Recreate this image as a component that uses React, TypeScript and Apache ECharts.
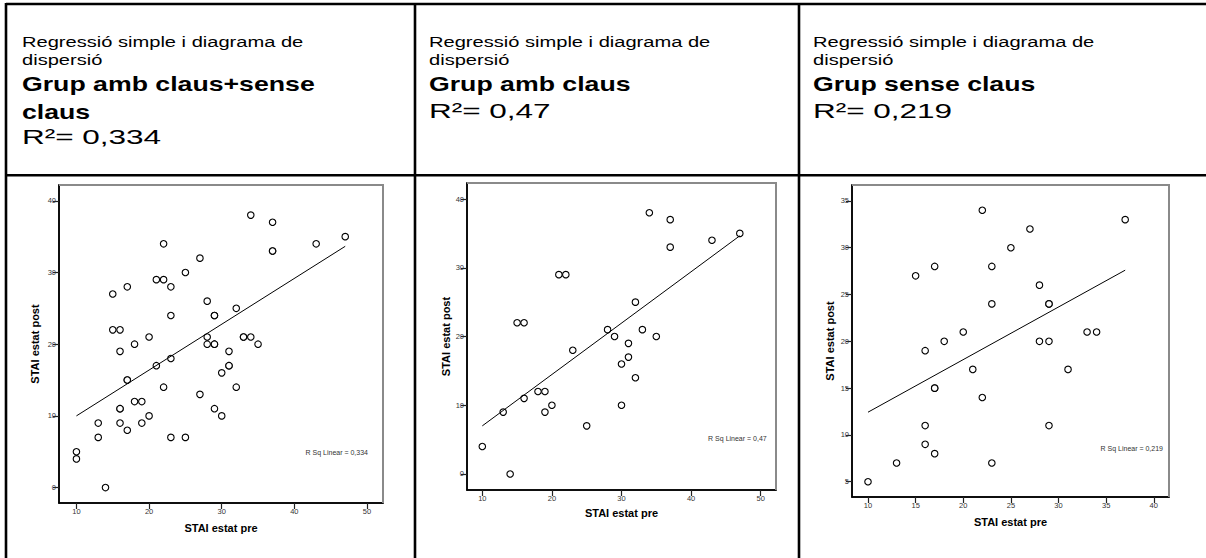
import React, { useEffect, useRef } from "react";
import * as echarts from "echarts";

// ---------- data ----------
const allPre = [34, 37, 47, 43, 22, 37, 37, 27, 25, 21, 22, 17, 23, 15, 28, 32, 23, 29, 29, 15, 16, 20, 28, 33, 33, 34, 18, 28, 29, 29, 35, 16, 31, 23, 21, 31, 31, 30, 17, 17, 22, 32, 27, 18, 19, 16, 16, 29, 20, 30, 13, 16, 19, 17, 13, 23, 25, 10, 10, 14];
const allPost = [38, 37, 35, 34, 34, 33, 33, 32, 30, 29, 29, 28, 28, 27, 26, 25, 24, 24, 24, 22, 22, 21, 21, 21, 21, 21, 20, 20, 20, 20, 20, 19, 19, 18, 17, 17, 17, 16, 15, 15, 14, 14, 13, 12, 12, 11, 11, 11, 10, 10, 9, 9, 9, 8, 7, 7, 7, 5, 4, 0];

const ambPre = [34, 37, 47, 43, 37, 21, 22, 32, 15, 16, 28, 33, 29, 35, 31, 23, 31, 30, 32, 18, 19, 16, 13, 19, 20, 30, 25, 10, 14];
const ambPost = [38, 37, 35, 34, 33, 29, 29, 25, 22, 22, 21, 21, 20, 20, 19, 18, 17, 16, 14, 12, 12, 11, 9, 9, 10, 10, 7, 4, 0];

const sensePre = [22, 37, 27, 25, 17, 23, 15, 28, 23, 29, 29, 20, 33, 34, 18, 28, 29, 16, 21, 31, 17, 17, 22, 16, 29, 16, 17, 13, 23, 10];
const sensePost = [34, 33, 32, 30, 28, 28, 27, 26, 24, 24, 24, 21, 21, 21, 20, 20, 20, 19, 17, 17, 15, 15, 14, 11, 11, 9, 8, 7, 7, 5];

// fitted regression lines (endpoints)
const fitAll = [[10, 10.0], [47, 33.65]];
const fitAmb = [[10, 7.0], [47, 34.65]];
const fitSense = [[10, 12.43], [37, 27.6]];

const xTicksA = [10, 20, 30, 40, 50];
const yTicksA = [0, 10, 20, 30, 40];
const xTicksS = [10, 15, 20, 25, 30, 35, 40];
const yTicksS = [5, 10, 15, 20, 25, 30, 35];

const subTitle = ["Regressió simple i diagrama de", "dispersió"];
const groupTitles = [["Grup amb claus+sense", "claus"], ["Grup amb claus"], ["Grup sense claus"]];
const r2Header = ["R²= 0,334", "R²= 0,47", "R²= 0,219"];
const r2Labels = ["R Sq Linear = 0,334", "R Sq Linear = 0,47", "R Sq Linear = 0,219"];
const xName = "STAI estat pre";
const yName = "STAI estat post";

const zip = (a: number[], b: number[]) => a.map((v, i) => [v, b[i]]);

export default function App() {
  const ref = useRef<HTMLDivElement>(null);
  useEffect(() => {
    if (!ref.current) return;
    const chart = echarts.init(ref.current, null, { renderer: "svg" });

    const grids = [
      { left: 59, top: 185, width: 324, height: 318 },
      { left: 467, top: 183, width: 309, height: 307 },
      { left: 852, top: 185, width: 317, height: 312 },
    ];
    const xr = [[7.6, 52.2], [7.8, 52.2], [8.32, 41.6]];
    const yr = [[-2.15, 42.2], [-2.33, 42.33], [3.37, 36.7]];
    const xt = [xTicksA, xTicksA, xTicksS];
    const yt = [yTicksA, yTicksA, yTicksS];
    const yGap = [19, 15, 17];
    const xGap = [19, 17, 19];
    const font = "Liberation Sans, Arial, Helvetica, sans-serif";

    const xAxis: any[] = [];
    const yAxis: any[] = [];
    grids.forEach((g, i) => {
      xAxis.push({
        type: "value", gridIndex: i, min: xr[i][0], max: xr[i][1], position: "bottom",
        splitLine: { show: false },
        axisLine: { show: true, onZero: false, lineStyle: { color: "#000", width: 1.5 } },
        axisTick: { show: true, length: 6, lineStyle: { color: "#222", width: 1.2 }, customValues: xt[i] },
        axisLabel: { fontSize: 7.5, color: "#333", margin: 4, fontFamily: font, customValues: xt[i] },
        name: xName, nameLocation: "middle", nameGap: xGap[i],
        nameTextStyle: { fontSize: 11, fontWeight: "bold", color: "#000", fontFamily: font },
      });
      yAxis.push({
        type: "value", gridIndex: i, min: yr[i][0], max: yr[i][1], position: "left",
        splitLine: { show: false },
        axisLine: { show: true, onZero: false, lineStyle: { color: "#000", width: 1.5 } },
        axisTick: { show: true, length: 6, lineStyle: { color: "#222", width: 1.2 }, customValues: yt[i] },
        axisLabel: { fontSize: 7.5, color: "#333", margin: 3, fontFamily: font, customValues: yt[i] },
        name: yName, nameLocation: "middle", nameGap: yGap[i], nameRotate: 90,
        nameTextStyle: { fontSize: 11, fontWeight: "bold", color: "#000", fontFamily: font },
      });
    });

    const pts = [zip(allPre, allPost), zip(ambPre, ambPost), zip(sensePre, sensePost)];
    const fits = [fitAll, fitAmb, fitSense];
    const series: any[] = [];
    pts.forEach((d, i) => {
      series.push({
        type: "line", xAxisIndex: i, yAxisIndex: i, data: fits[i], showSymbol: false,
        lineStyle: { color: "#000", width: 1 }, silent: true,
      });
      series.push({
        type: "scatter", xAxisIndex: i, yAxisIndex: i, data: d, symbol: "circle", symbolSize: 6.5,
        itemStyle: { color: "#fff", borderColor: "#000", borderWidth: 1.1, opacity: 1 },
      });
    });

    const colX = [22, 429, 813];
    const graphic: any[] = [];
    const L = (x1: number, y1: number, x2: number, y2: number, stroke = "#000", lineWidth = 2.6) => ({
      type: "line", shape: { x1, y1, x2, y2 }, style: { stroke, lineWidth }, silent: true, z: 100,
    });
    // table rules
    graphic.push(L(6, 4, 1206, 4));
    graphic.push(L(6, 3, 6, 558));
    graphic.push(L(6, 175.3, 1206, 175.3));
    graphic.push(L(415, 4, 415, 558));
    graphic.push(L(799, 4, 799, 558));

    // grey top/right frame edges
    grids.forEach((g) => {
      const x0 = g.left, y0 = g.top, x1 = g.left + g.width, y1 = g.top + g.height;
      graphic.push(L(x0, y0, x1 + 1, y0, "#8a8a8a", 2));
      graphic.push(L(x1, y0, x1, y1, "#8a8a8a", 2));
    });

    colX.forEach((x, i) => {
      graphic.push({ type: "text", x, y: 42, scaleX: 1.34, style: { text: subTitle[0], font: `15px ${font}`, fill: "#000", verticalAlign: "middle" } });
      graphic.push({ type: "text", x, y: 60, scaleX: 1.34, style: { text: subTitle[1], font: `15px ${font}`, fill: "#000", verticalAlign: "middle" } });
      groupTitles[i].forEach((t, j) => {
        graphic.push({ type: "text", x, y: 84 + j * 28, scaleX: 1.27, style: { text: t, font: `bold 21px ${font}`, fill: "#000", verticalAlign: "middle" } });
      });
      const ry = 84 + groupTitles[i].length * 26.5;
      graphic.push({ type: "text", x, y: ry, scaleX: 1.5, style: { text: r2Header[i], font: `21px ${font}`, fill: "#000", verticalAlign: "middle" } });
    });

    const r2Pos = [[368, 452.7], [766.7, 438.3], [1163, 448.3]];
    r2Pos.forEach((p, i) => {
      graphic.push({ type: "text", x: p[0], y: p[1], style: { text: r2Labels[i], font: `7px ${font}`, fill: "#333", align: "right", verticalAlign: "middle" } });
    });

    chart.setOption({
      animation: false,
      backgroundColor: "#fff",
      grid: grids.map((g) => ({ ...g, containLabel: false, outerBoundsMode: "none", show: true, borderColor: "#000", borderWidth: 1.5, backgroundColor: "transparent" })),
      xAxis,
      yAxis,
      series,
      graphic,
    });
    return () => chart.dispose();
  }, []);
  return <div ref={ref} style={{ position: "fixed", left: 0, top: 0, width: 1206, height: 558, background: "#fff" }} />;
}
